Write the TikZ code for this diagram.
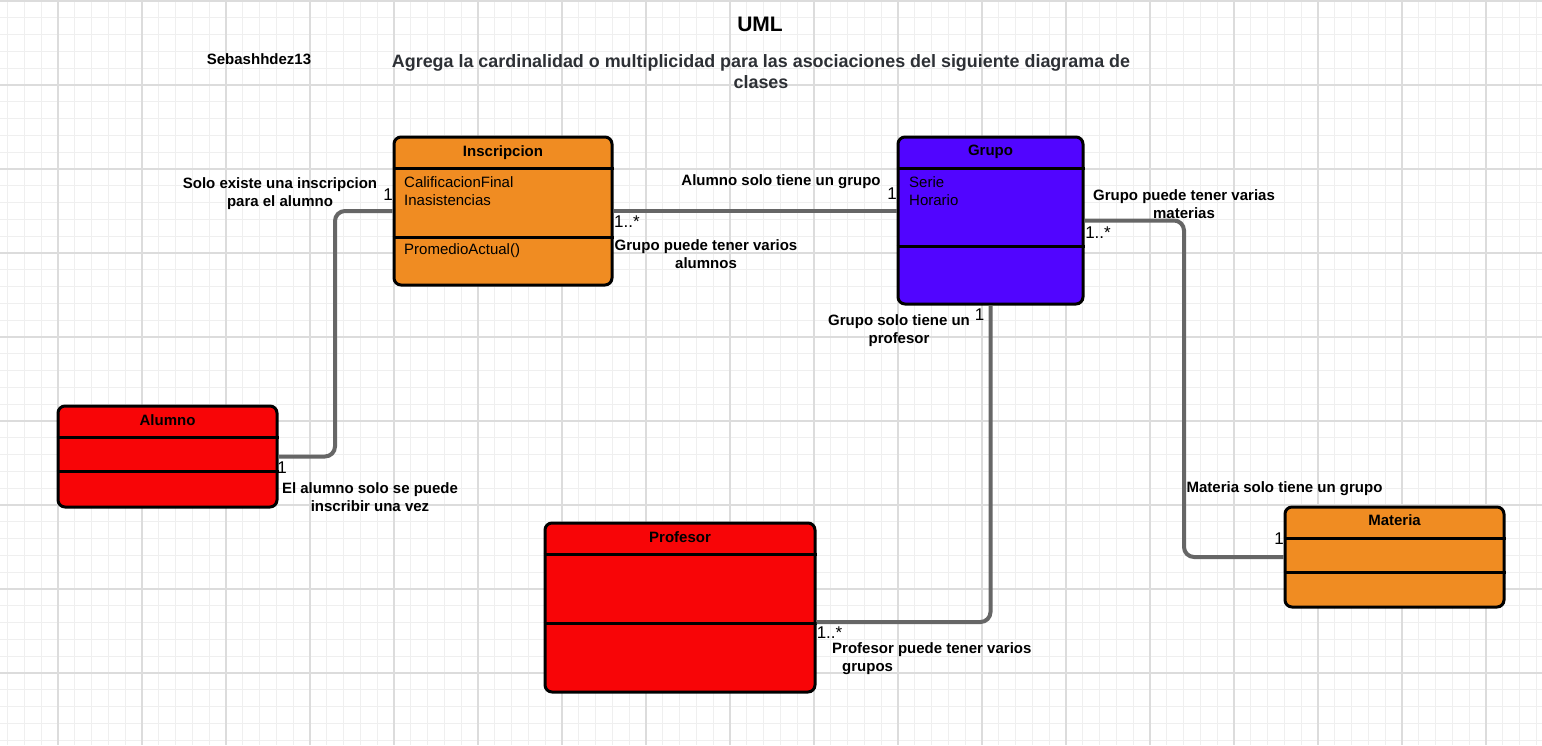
\documentclass[tikz,border=0pt]{standalone}
\usepackage{fontspec}
\setmainfont{Liberation Sans}
\usetikzlibrary{positioning}
\definecolor{gridminor}{HTML}{EFEFEF}
\definecolor{gridmajor}{HTML}{DCDCDC}
\definecolor{assocgray}{HTML}{666666}
\definecolor{orangec}{HTML}{F08C22}
\definecolor{bluec}{HTML}{5105FF}
\definecolor{redc}{HTML}{F80507}
\definecolor{headgray}{HTML}{2D3035}
\newcommand{\mult}[1]{\fontsize{17}{17}\selectfont #1}

\begin{document}
\begin{tikzpicture}[
      x=1pt, y=-1pt,
      minorgrid/.style={gridminor,line width=0.8pt},
      majorgrid/.style={gridmajor,line width=1.2pt},
      classbox/.style={draw=black,line width=3pt,rounded corners=7pt,inner sep=0pt},
      divider/.style={line width=3pt},
      assoc/.style={draw=assocgray,line width=4pt,rounded corners=10pt},
      classname/.style={font=\bfseries\fontsize{15}{18}\selectfont,inner sep=0pt},
      member/.style={font=\fontsize{15}{18}\selectfont,align=left,anchor=north west,inner sep=0pt},
      note/.style={font=\bfseries\fontsize{15}{18}\selectfont,align=center,inner sep=0pt},
      card/.style={inner sep=0pt}
    ]
    % Background and grid.
    \useasboundingbox[fill=white] (0,0) rectangle (1542,745);
    \foreach \gx in {7.6,24.4,...,1542} \draw[minorgrid] (\gx,0) -- (\gx,745);
    \foreach \gy in {1,17.8,...,745} \draw[minorgrid] (0,\gy) -- (1542,\gy);
    \foreach \gx in {58,142,...,1542} \draw[majorgrid] (\gx,0) -- (\gx,745);
    \foreach \gy in {1,85,...,745} \draw[majorgrid] (0,\gy) -- (1542,\gy);
    % Headings.
    \node[font=\bfseries\fontsize{21}{24}\selectfont] (umlTitle) at (760,24) {UML};
    \node[font=\bfseries\fontsize{15}{18}\selectfont] (author) at (259,59) {Sebashhdez13};
    \node[font=\bfseries\fontsize{17.9}{21}\selectfont,text=headgray,align=center] (task) at (761,72)
      {Agrega la cardinalidad o multiplicidad para las asociaciones del siguiente diagrama de\\clases};
    % Draw the class boxes.
    \node[classbox,fill=orangec,minimum width=218,minimum height=148] (inscripcion) at (503,211) {};
    \node[classbox,fill=bluec,minimum width=185,minimum height=167] (grupo) at (990.5,220.5) {};
    \node[classbox,fill=redc,minimum width=219,minimum height=101] (alumno) at (167.5,456.5) {};
    \node[classbox,fill=redc,minimum width=270,minimum height=169] (profesor) at (680,607.5) {};
    \node[classbox,fill=orangec,minimum width=219,minimum height=100] (materia) at (1394.5,557) {};
    % Draw the compartments.
    \draw[divider] (inscripcion.west |- 0,168) -- (inscripcion.east |- 0,168);
    \draw[divider] (inscripcion.west |- 0,237) -- (inscripcion.east |- 0,237);
    \draw[divider] (grupo.west |- 0,168) -- (grupo.east |- 0,168);
    \draw[divider] (grupo.west |- 0,246) -- (grupo.east |- 0,246);
    \draw[divider] (alumno.west |- 0,437) -- (alumno.east |- 0,437);
    \draw[divider] (alumno.west |- 0,471) -- (alumno.east |- 0,471);
    \draw[divider] (profesor.west |- 0,554) -- (profesor.east |- 0,554);
    \draw[divider] (profesor.west |- 0,623) -- (profesor.east |- 0,623);
    \draw[divider] (materia.west |- 0,538) -- (materia.east |- 0,538);
    \draw[divider] (materia.west |- 0,572) -- (materia.east |- 0,572);
    \coordinate (profesorLink) at (profesor.east |- 0,622);
    % Class names and members.
    \node[classname,below=9.5pt of inscripcion.north] (inscripcionName) {Inscripcion};
    \node[classname,below=9.5pt of grupo.north] (grupoName) {Grupo};
    \node[classname,below=9.5pt of alumno.north] (alumnoName) {Alumno};
    \node[classname,below=9.5pt of profesor.north] (profesorName) {Profesor};
    \node[classname,below=9pt of materia.north] (materiaName) {Materia};
    \node[member] (inscripcionAttr) at (404,176.5) {CalificacionFinal\\Inasistencias};
    \node[member] (inscripcionOp) at (404,243.5) {PromedioActual()};
    \node[member] (grupoAttr) at (909,176.5) {Serie\\Horario};
    % Draw the associations.
    \draw[assoc] (alumno.east) -- (alumno.east -| 335,0) |- (inscripcion.west);
    \draw[assoc] (inscripcion.east) -- (inscripcion.east -| grupo.west);
    \draw[assoc] (grupo.east) -- (grupo.east -| 1184,0) |- (materia.west);
    \draw[assoc] (grupo.south) |- (profesorLink);
    % Multiplicities.
    \node[card] (mInsA) at (388,194.5) {\mult{1}};
    \node[card] (mInsG) at (627,222) {\mult{1..*}};
    \node[card] (mGruI) at (892,194) {\mult{1}};
    \node[card] (mGruM) at (1098,233) {\mult{1..*}};
    \node[card] (mGruP) at (979.5,315) {\mult{1}};
    \node[card] (mAluI) at (282,468) {\mult{1}};
    \node[card] (mProG) at (829.5,633) {\mult{1..*}};
    \node[card] (mMatG) at (1279,539) {\mult{1}};
    % Association notes.
    \node[note] (noteSolo) at (280,194) {Solo existe una inscripcion\\para el alumno};
    \node[note] (noteAlumno) at (781,182) {Alumno solo tiene un grupo};
    \node[note] (noteVarios) at (706,254.5) {Grupo puede tener varios\\alumnos};
    \node[note] (noteMaterias) at (1184,204) {Grupo puede tener varias\\materias};
    \node[note] (noteProfesor) at (899,331) {Grupo solo tiene un\\profesor};
    \node[note] (noteInscribir) at (370,497) {El alumno solo se puede\\inscribir una vez};
    \node[note,align=left,anchor=west] (noteGrupos) at (832,658.5) {Profesor puede tener varios\\\hspace*{10pt}grupos};
    \node[note] (noteMateria) at (1284.5,489) {Materia solo tiene un grupo};
\end{tikzpicture}
\end{document}
